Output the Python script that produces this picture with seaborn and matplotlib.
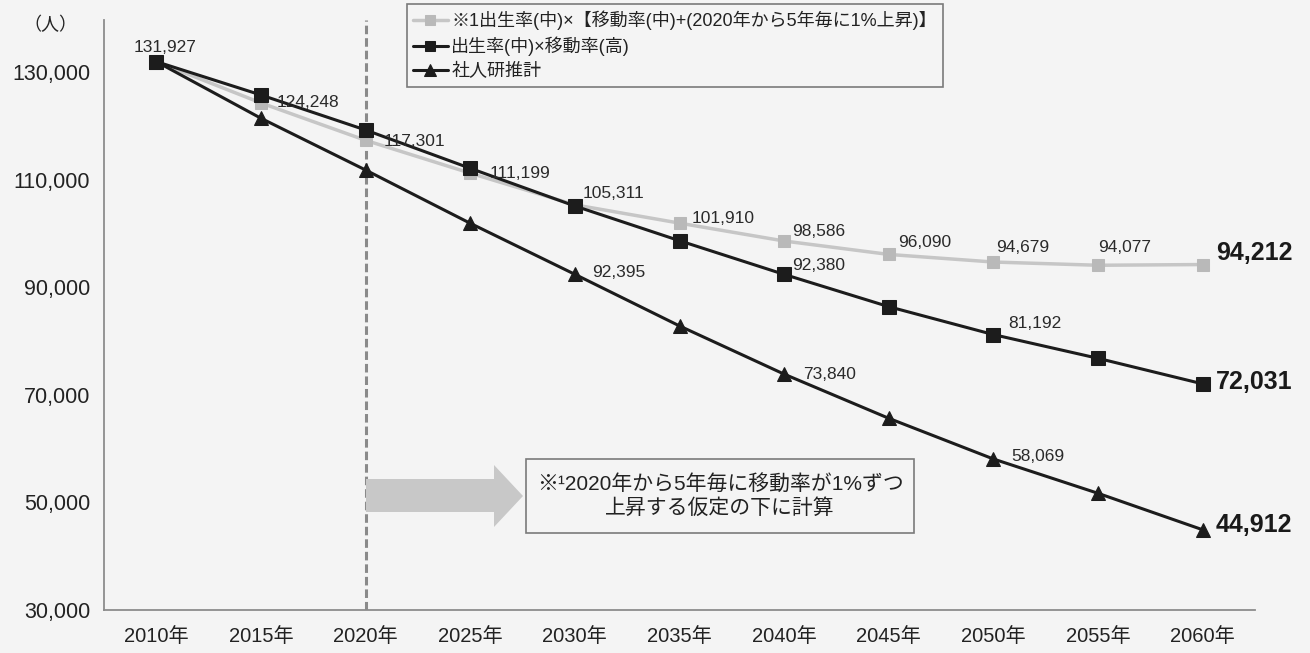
import numpy as np
import pandas as pd
import matplotlib
matplotlib.use("Agg")
import matplotlib.pyplot as plt
import seaborn as sns
from matplotlib.patches import Polygon, Rectangle
from matplotlib.ticker import FuncFormatter, FixedLocator

# data
years = ["2010年", "2015年", "2020年", "2025年", "2030年", "2035年",
         "2040年", "2045年", "2050年", "2055年", "2060年"]
pop_shift = [131927, 124248, 117301, 111199, 105311, 101910, 98586, 96090, 94679, 94077, 94212]
pop_high = [131927, 125730, 119220, 112100, 105090, 98640, 92380, 86380, 81192, 76780, 72031]
pop_ipss = [131927, 121400, 111780, 101880, 92395, 82800, 73840, 65630, 58069, 51690, 44912]

name_shift = "※1出生率(中)×【移動率(中)+(2020年から5年毎に1%上昇)】"
name_high = "出生率(中)×移動率(高)"
name_ipss = "社人研推計"
yticks = [30000, 50000, 70000, 90000, 110000, 130000]

# which points carry a value label, and pixel offsets for them
lab_shift = {0: (9, 14), 1: (16, 0), 2: (18, -1), 3: (19, 0), 4: (8, 11), 5: (12, 5),
             6: (8, 10), 7: (9, 12), 8: (3, 15), 9: (0, 18)}
lab_high = {6: (8, 9), 8: (15, 11)}
lab_ipss = {4: (17, 2), 6: (19, 0), 8: (18, 2)}
last_off = {"shift": (13, 12), "high": (13, 2), "ipss": (13, 5)}

sns.set_style("white")
plt.rcParams['font.family'] = ['Liberation Sans', 'Noto Sans CJK JP']

bg = "#f4f4f4"
fig = plt.figure(figsize=(13.1, 6.53), dpi=100, facecolor=bg)
ax = fig.add_axes([104 / 1310, 43 / 653, 1151 / 1310, 590 / 653], facecolor=bg)

x = np.arange(len(years))
df = pd.DataFrame({"x": x, "shift": pop_shift, "high": pop_high, "ipss": pop_ipss})

sns.lineplot(data=df, x="x", y="shift", ax=ax, color="#c6c6c6", linewidth=2.5,
             marker="s", markersize=9, markerfacecolor="#b9b9b9",
             markeredgecolor="#b9b9b9", label=name_shift, zorder=2)
sns.lineplot(data=df, x="x", y="high", ax=ax, color="#1c1c1c", linewidth=2.2,
             marker="s", markersize=9.5, markerfacecolor="#1c1c1c",
             markeredgecolor="#1c1c1c", label=name_high, zorder=3)
sns.lineplot(data=df, x="x", y="ipss", ax=ax, color="#1c1c1c", linewidth=2.2,
             marker="^", markersize=10, markerfacecolor="#1c1c1c",
             markeredgecolor="#1c1c1c", label=name_ipss, zorder=3)

ax.set_xlim(-0.5, len(years) - 0.5)
ax.set_ylim(30000, 30000 + 590 / 5.38 * 1000)

# value labels
for vals, labs, key in [(pop_shift, lab_shift, "shift"), (pop_high, lab_high, "high"),
                        (pop_ipss, lab_ipss, "ipss")]:
    for i, (dx, dy) in labs.items():
        ha = "center" if i == 0 else "left"
        ax.annotate(f"{vals[i]:,}", (x[i], vals[i]), xytext=(dx, dy),
                    textcoords="offset pixels", ha=ha, va="center",
                    fontsize=12.5, color="#2a2a2a", zorder=5)
    dx, dy = last_off[key]
    ax.annotate(f"{vals[-1]:,}", (x[-1], vals[-1]), xytext=(dx, dy),
                textcoords="offset pixels", ha="left", va="center",
                fontsize=18, fontweight="bold", color="#1a1a1a", zorder=5)

# dashed marker at 2020
ax.axvline(2, color="#8a8a8a", linewidth=2.2, linestyle=(0, (2.8, 1.3)), zorder=1)

# axes styling
for s in ["top", "right"]:
    ax.spines[s].set_visible(False)
for s in ["left", "bottom"]:
    ax.spines[s].set_color("#8c8c8c")
    ax.spines[s].set_linewidth(1.3)

ax.yaxis.set_major_locator(FixedLocator(yticks))
ax.yaxis.set_major_formatter(FuncFormatter(lambda v, p: f"{int(v):,}"))
ax.tick_params(axis="y", labelsize=15.5, colors="#8c8c8c", labelcolor="#222222",
               length=4, width=1.2, pad=6)
ax.set_xticks(x)
ax.set_xticklabels(years)
ax.set_xticks(np.arange(-0.5, len(years), 1), minor=True)
ax.tick_params(axis="x", which="major", length=0, labelsize=14.5,
               labelcolor="#222222", pad=12)
ax.tick_params(axis="x", which="minor", length=7, width=1.2, direction="inout",
               colors="#8c8c8c")
ax.set_xlabel("")
ax.set_ylabel("")

# unit
fig.text(50 / 1310, 1 - 25 / 653, "（人）", fontsize=13, ha="center", va="center",
         color="#222222")

# legend
leg = ax.legend(loc="upper left", bbox_to_anchor=(407 / 1310, 1 - 4 / 653),
                bbox_transform=fig.transFigure, borderaxespad=0, fontsize=13,
                frameon=True, fancybox=False, framealpha=1, facecolor=bg,
                edgecolor="#7a7a7a", handlelength=1.9, handletextpad=0.2,
                labelspacing=0.38, borderpad=0.35, markerscale=0.8)
leg.get_frame().set_linewidth(1.2)
for t in leg.get_texts():
    t.set_color("#222222")

# note arrow and box
def fx(px):
    return px / 1310


def fy(py):
    return 1 - py / 653


arrow = [(366, 479), (494, 479), (494, 465), (523, 496), (494, 527), (494, 512), (366, 512)]
fig.add_artist(Polygon([(fx(a), fy(b)) for a, b in arrow], closed=True,
                       transform=fig.transFigure, facecolor="#c8c8c8",
                       edgecolor="none", zorder=4))
fig.add_artist(Rectangle((fx(526), fy(533)), (914 - 526) / 1310, (533 - 459) / 653,
                         transform=fig.transFigure, facecolor=bg,
                         edgecolor="#7a7a7a", linewidth=1.2, zorder=4))
fig.text(fx(720), fy(496), "※¹2020年から5年毎に移動率が1%ずつ\n上昇する仮定の下に計算",
         ha="center", va="center", fontsize=15, color="#222222",
         linespacing=1.3, zorder=5)

fig.savefig("out.png", dpi=100, facecolor=bg)
